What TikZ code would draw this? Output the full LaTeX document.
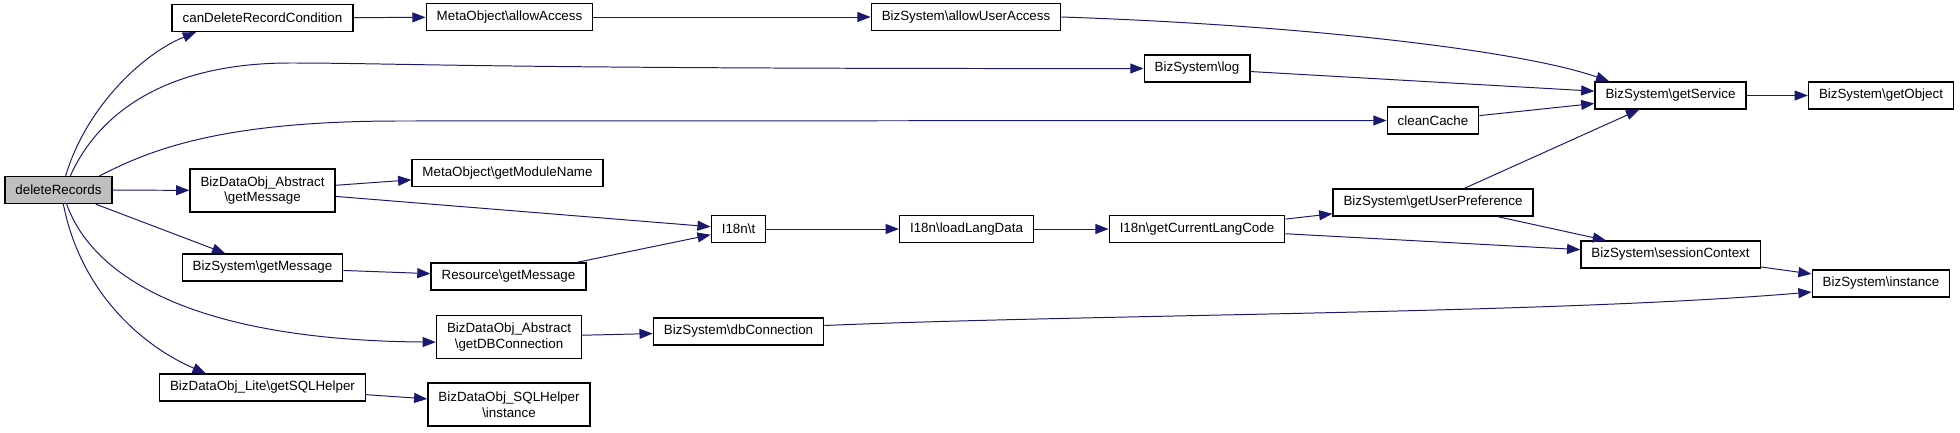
\documentclass[tikz,border=0pt]{standalone}
\usepackage{fontspec}
\setmainfont{Liberation Sans}
\usetikzlibrary{arrows.meta}
\definecolor{edgeblue}{HTML}{191970}
\definecolor{callergrey}{HTML}{BFBFBF}
\newcommand{\nsep}{\textbackslash}
\begin{document}
\begin{tikzpicture}[
  x=0.025cm, y=-0.025cm,
  func/.style={draw, line width=0.9pt, minimum height=0.675cm, inner xsep=7.5pt, inner ysep=2pt, align=center, font=\fontsize{9.5}{11}\selectfont},
  twoline/.style={func, minimum height=1.075cm},
  arrow/.style={-{Triangle[length=0.33cm, width=0.25cm]}, draw=edgeblue, line width=0.7pt}
]
  \useasboundingbox (0,0) rectangle (1960,433);

  % Functions
  \node[func, fill=callergrey] (del) at (58.5,190) {deleteRecords};
  \node[func] (cdr) at (262.5,18) {canDeleteRecordCondition};
  \node[twoline] (bdogm) at (262.5,190.5) {BizDataObj\_Abstract\\\nsep getMessage};
  \node[func] (bsgm) at (262.5,267.5) {BizSystem\nsep getMessage};
  \node[func] (sqlh) at (262.5,387.5) {BizDataObj\_Lite\nsep getSQLHelper};
  \node[func] (moaa) at (509.5,17) {MetaObject\nsep allowAccess};
  \node[func] (mogmn) at (507.5,173) {MetaObject\nsep getModuleName};
  \node[func] (resgm) at (508.5,276.5) {Resource\nsep getMessage};
  \node[twoline] (bdogdb) at (509,337) {BizDataObj\_Abstract\\\nsep getDBConnection};
  \node[twoline] (sqli) at (509,404.5) {BizDataObj\_SQLHelper\\\nsep instance};
  \node[func] (trans) at (738.5,229) {I18n\nsep t};
  \node[func] (dbc) at (738.5,331.5) {BizSystem\nsep dbConnection};
  \node[func] (aua) at (966,17) {BizSystem\nsep allowUserAccess};
  \node[func] (lld) at (966.5,229) {I18n\nsep loadLangData};
  \node[func] (log) at (1197,68.5) {BizSystem\nsep log};
  \node[func] (gclc) at (1197,229) {I18n\nsep getCurrentLangCode};
  \node[func] (cc) at (1433,120.5) {cleanCache};
  \node[func] (gup) at (1433,202.5) {BizSystem\nsep getUserPreference};
  \node[func] (gs) at (1670.5,95.5) {BizSystem\nsep getService};
  \node[func] (sc) at (1670.5,254.5) {BizSystem\nsep sessionContext};
  \node[func] (go) at (1881,95.5) {BizSystem\nsep getObject};
  \node[func] (inst) at (1881,283.5) {BizSystem\nsep instance};

  % Calls
  \draw[arrow] (del.63) .. controls (85,110) and (140,55) .. (cdr.192);
  \draw[arrow] (del.50) .. controls (100,110) and (170,63) .. (290,63) .. controls (400,63) and (480,69) .. (log.west);
  \draw[arrow] (del.19) .. controls (150,150) and (220,121) .. (400,121) -- (cc.west);
  \draw[arrow] (del) -- (bdogm);
  \draw[arrow] (del) -- (bsgm);
  \draw[arrow] (del.-60) .. controls (90,270) and (180,340) .. (bdogdb.184);
  \draw[arrow] (del.-71) .. controls (80,290) and (140,345) .. (sqlh.166);
  \draw[arrow] (cdr) -- (moaa);
  \draw[arrow] (moaa) -- (aua);
  \draw[arrow] (aua.east) .. controls (1300,25) and (1520,50) .. (gs.167);
  \draw[arrow] (log) -- (gs);
  \draw[arrow] (cc) -- (gs);
  \draw[arrow] (bdogm) -- (mogmn);
  \draw[arrow] (bdogm) -- (trans);
  \draw[arrow] (bsgm) -- (resgm);
  \draw[arrow] (resgm) -- (trans);
  \draw[arrow] (trans) -- (lld);
  \draw[arrow] (lld) -- (gclc);
  \draw[arrow] (gclc) -- (gup);
  \draw[arrow] (gclc) -- (sc);
  \draw[arrow] (gup) -- (gs);
  \draw[arrow] (gup) -- (sc);
  \draw[arrow] (gs) -- (go);
  \draw[arrow] (sc) -- (inst);
  \draw[arrow] (bdogdb) -- (dbc);
  \draw[arrow] (dbc.4) .. controls (1100,314) and (1550,314) .. (inst.187);
  \draw[arrow] (sqlh) -- (sqli);
\end{tikzpicture}
\end{document}
